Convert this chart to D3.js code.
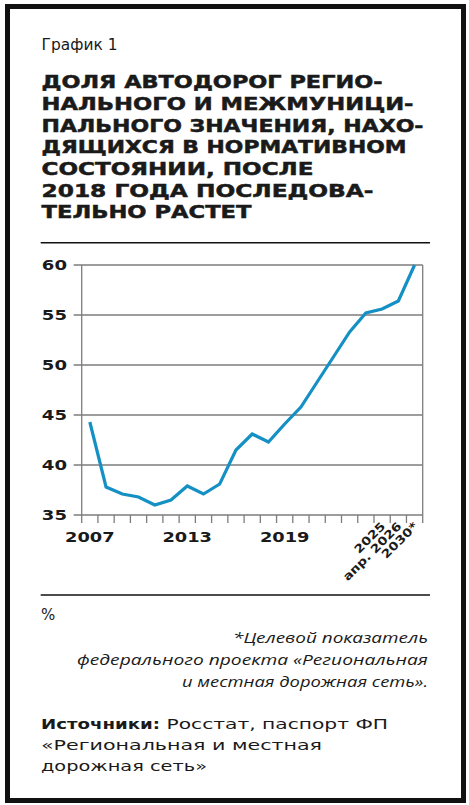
<!DOCTYPE html>
<html>
<head>
<meta charset="utf-8">
<script src="https://cdn.jsdelivr.net/npm/d3@7"></script>
<style>
  body { margin: 0; background: #fff; }
  svg { display: block; }
</style>
</head>
<body>
<svg id="chart"></svg>
<script>
// chart data
var categories = ["2007","2008","2009","2010","2011","2012","2013","2014","2015","2016",
                  "2017","2018","2019","2020","2021","2022","2023","2024","2025","апр. 2026","2030*"];
var shares = [44.3, 37.8, 37.1, 36.8, 36.0, 36.5, 37.9, 37.1, 38.1, 41.5,
              43.1, 42.3, 44.1, 45.8, 48.3, 50.8, 53.3, 55.2, 55.6, 56.4, 60.0];
var yTicks = [35, 40, 45, 50, 55, 60];
var flatLabels = ["2007", "2013", "2019"];
var slantLabels = ["2025", "апр. 2026", "2030*"];

var titleLines = ["ДОЛЯ АВТОДОРОГ РЕГИО-", "НАЛЬНОГО И МЕЖМУНИЦИ-", "ПАЛЬНОГО ЗНАЧЕНИЯ, НАХО-",
                  "ДЯЩИХСЯ В НОРМАТИВНОМ", "СОСТОЯНИИ, ПОСЛЕ", "2018 ГОДА ПОСЛЕДОВА-", "ТЕЛЬНО РАСТЕТ"];
var noteLines = ["*Целевой показатель", "федерального проекта «Региональная", "и местная дорожная сеть»."];
var sourceLines = ["«Региональная и местная", "дорожная сеть»"];

// layout
var W = 469, H = 805;
var titleWidths = [341, 372, 382, 365, 272, 332, 210];
var noteWidths = [195, 351, 246];
var sourceWidths = [281, 166];
var plot = {left: 81.7, right: 422.7, top: 265, bottom: 515};
var blue = "#1590c4", gray = "#7d7d7d", ink = "#1a1a1a";

var svg = d3.select("#chart").attr("width", W).attr("height", H);

// stretch text to a given width (the original face is a wide grotesque)
var fitWidth = function(sel, w) {
  sel.attr("textLength", w).attr("lengthAdjust", "spacingAndGlyphs");
};
var widen = function(sel, factor) {
  sel.each(function() {
    var len = this.getComputedTextLength();
    d3.select(this).attr("textLength", len * factor).attr("lengthAdjust", "spacingAndGlyphs");
  });
};

// frame
svg.append("rect")
  .attr("x", 7.5).attr("y", 6.5)
  .attr("width", 456).attr("height", 794)
  .attr("fill", "none").attr("stroke", "#111").attr("stroke-width", 5);

svg.append("text")
  .attr("x", 41.5).attr("y", 50)
  .attr("font-family", "DejaVu Sans").attr("font-size", 15)
  .attr("fill", ink)
  .text("График 1")
  .call(fitWidth, 76);

svg.selectAll("text.title")
  .data(titleLines)
  .enter().append("text")
  .attr("class", "title")
  .attr("x", 41.5)
  .attr("y", function(d, i) { return 88.3 + i * 21.67; })
  .attr("font-family", "DejaVu Sans").attr("font-weight", "bold").attr("font-size", 18)
  .attr("fill", ink)
  .attr("stroke", ink).attr("stroke-width", 0.5)
  .text(function(d) { return d; })
  .each(function(d, i) { d3.select(this).call(fitWidth, titleWidths[i]); });

svg.append("line")
  .attr("x1", 40.7).attr("x2", 430).attr("y1", 242.7).attr("y2", 242.7)
  .attr("stroke", "#111").attr("stroke-width", 1.5);

// scales
var xScale = d3.scaleBand()
  .domain(categories)
  .range([plot.left, plot.right])
  .padding(0);

var yScale = d3.scaleLinear()
  .domain([35, 60])
  .range([plot.bottom, plot.top]);

var g = svg.append("g");

// grid lines
g.selectAll("line.grid")
  .data(yTicks)
  .enter().append("line")
  .attr("class", "grid")
  .attr("x1", plot.left - 8).attr("x2", plot.right)
  .attr("y1", function(d) { return yScale(d); })
  .attr("y2", function(d) { return yScale(d); })
  .attr("stroke", gray).attr("stroke-width", 1.3);

// x ticks on band edges
var edges = categories.map(function(c) { return xScale(c); }).concat([plot.right]);
g.selectAll("line.xtick")
  .data(edges)
  .enter().append("line")
  .attr("class", "xtick")
  .attr("x1", function(d) { return d; }).attr("x2", function(d) { return d; })
  .attr("y1", function(d, i) { return (i === 0 || i === edges.length - 1) ? plot.top : plot.bottom; })
  .attr("y2", plot.bottom + 8)
  .attr("stroke", gray).attr("stroke-width", 1.3);

// y labels
g.selectAll("text.ylab")
  .data(yTicks)
  .enter().append("text")
  .attr("class", "ylab")
  .attr("x", 67)
  .attr("y", function(d) { return yScale(d); })
  .attr("dy", "0.36em")
  .attr("text-anchor", "end")
  .attr("font-family", "DejaVu Sans").attr("font-weight", "bold").attr("font-size", 13.7)
  .attr("fill", ink)
  .text(function(d) { return d; })
  .call(widen, 1.32);

// x labels
g.selectAll("text.xlab")
  .data(flatLabels)
  .enter().append("text")
  .attr("class", "xlab")
  .attr("x", function(d) { return xScale(d) + xScale.bandwidth() / 2; })
  .attr("y", 541.7)
  .attr("text-anchor", "middle")
  .attr("font-family", "DejaVu Sans").attr("font-weight", "bold").attr("font-size", 13.7)
  .attr("fill", ink)
  .text(function(d) { return d; })
  .call(widen, 1.3);

g.selectAll("text.slant")
  .data(slantLabels)
  .enter().append("text")
  .attr("class", "slant")
  .attr("transform", function(d) {
    return "translate(" + (xScale(d) + xScale.bandwidth() / 2 + 4) + "," + (plot.bottom + 12) + ") rotate(-45)";
  })
  .attr("text-anchor", "end")
  .attr("font-family", "DejaVu Sans").attr("font-weight", "bold").attr("font-size", 11.5)
  .attr("fill", ink)
  .text(function(d) { return d; })
  .call(widen, 1.2);

// the line
var lineGenerator = d3.line()
  .x(function(d, i) { return xScale(categories[i]) + xScale.bandwidth() / 2; })
  .y(function(d) { return yScale(d); });

g.append("path")
  .datum(shares)
  .attr("d", lineGenerator)
  .attr("fill", "none")
  .attr("stroke", blue)
  .attr("stroke-width", 3.2)
  .attr("stroke-linejoin", "miter");

// footer
svg.append("line")
  .attr("x1", 40.7).attr("x2", 430).attr("y1", 595).attr("y2", 595)
  .attr("stroke", "#111").attr("stroke-width", 1.5);

svg.append("text")
  .attr("x", 41).attr("y", 620)
  .attr("font-family", "DejaVu Sans").attr("font-size", 15)
  .attr("fill", ink)
  .text("%");

svg.selectAll("text.note")
  .data(noteLines)
  .enter().append("text")
  .attr("class", "note")
  .attr("x", 428)
  .attr("y", function(d, i) { return 643.3 + i * 22; })
  .attr("text-anchor", "end")
  .attr("font-family", "Open Sans").attr("font-style", "italic").attr("font-weight", 400)
  .attr("font-size", 15)
  .attr("fill", ink)
  .text(function(d) { return d; })
  .each(function(d, i) { d3.select(this).call(fitWidth, noteWidths[i]); });

svg.append("text")
  .attr("x", 41).attr("y", 729)
  .attr("font-family", "DejaVu Sans").attr("font-weight", "bold").attr("font-size", 13.7)
  .attr("fill", ink)
  .text("Источники:")
  .call(fitWidth, 119);

svg.append("text")
  .attr("x", 166.5).attr("y", 729)
  .attr("font-family", "DejaVu Sans").attr("font-size", 13.7)
  .attr("fill", ink)
  .text("Росстат, паспорт ФП")
  .call(fitWidth, 221.5);

svg.selectAll("text.src")
  .data(sourceLines)
  .enter().append("text")
  .attr("class", "src")
  .attr("x", 41)
  .attr("y", function(d, i) { return 750 + i * 20.7; })
  .attr("font-family", "DejaVu Sans").attr("font-size", 13.7)
  .attr("fill", ink)
  .text(function(d) { return d; })
  .each(function(d, i) { d3.select(this).call(fitWidth, sourceWidths[i]); });
</script>
</body>
</html>
